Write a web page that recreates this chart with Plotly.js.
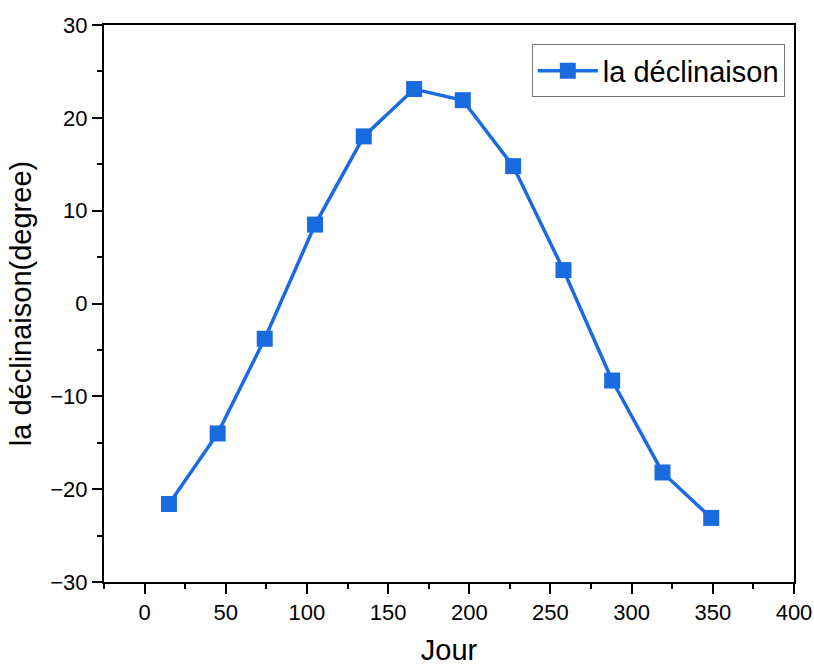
<!DOCTYPE html>
<html>
<head>
<meta charset="utf-8">
<script src="https://cdn.plot.ly/plotly-3.0.1.min.js"></script>
<style>html,body{margin:0;padding:0;background:#fff;}#chart{width:814px;height:666px;}</style>
</head>
<body>
<div id="chart"></div>
<script>
const days = [15, 45, 74, 105, 135, 166, 196, 227, 258, 288, 319, 349];
const declination = [-21.6, -14.0, -3.8, 8.5, 18.0, 23.1, 21.9, 14.8, 3.6, -8.3, -18.2, -23.1];
const seriesName = 'la déclinaison';
const xTitle = 'Jour';
const yTitle = 'la déclinaison(degree)';

const color = '#1a6be0';
const font = 'Arial, "Liberation Sans", sans-serif';

Plotly.newPlot('chart', [{
  x: days, y: declination, name: seriesName,
  type: 'scatter', mode: 'lines+markers',
  line: {color: color, width: 3.5},
  marker: {symbol: 'square', size: 16, color: color}
}], {
  width: 814, height: 666,
  margin: {l: 104, r: 20, t: 25, b: 84},
  paper_bgcolor: '#fff', plot_bgcolor: '#fff',
  font: {family: font, color: '#000'},
  showlegend: true,
  legend: {x: 0.62, y: 0.965, xanchor: 'left', yanchor: 'top',
    bordercolor: '#777', borderwidth: 1, bgcolor: '#fff', itemwidth: 60,
    font: {size: 29, family: font}},
  xaxis: {range: [-25, 400], tickvals: [0,50,100,150,200,250,300,350,400],
    ticks: 'outside', ticklen: 10, tickwidth: 2, tickcolor: '#000',
    minor: {tickvals: [-25,25,75,125,175,225,275,325,375], ticks: 'outside', ticklen: 5, tickwidth: 2, tickcolor: '#000'},
    showline: true, linecolor: '#000', linewidth: 2, mirror: true,
    showgrid: false, zeroline: false,
    tickfont: {size: 22}, title: {text: xTitle, font: {size: 29}, standoff: 26}},
  yaxis: {range: [-30, 30], tickvals: [-30,-20,-10,0,10,20,30],
    ticktext: ['\u221230','\u221220','\u221210','0','10','20','30'],
    ticks: 'outside', ticklen: 10, tickwidth: 2, tickcolor: '#000',
    minor: {tickvals: [-25,-15,-5,5,15,25], ticks: 'outside', ticklen: 5, tickwidth: 2, tickcolor: '#000'},
    showline: true, linecolor: '#000', linewidth: 2, mirror: true,
    showgrid: false, zeroline: false,
    tickfont: {size: 22}, title: {text: yTitle, font: {size: 29}, standoff: 10}}
}, {staticPlot: true});
</script>
</body>
</html>
